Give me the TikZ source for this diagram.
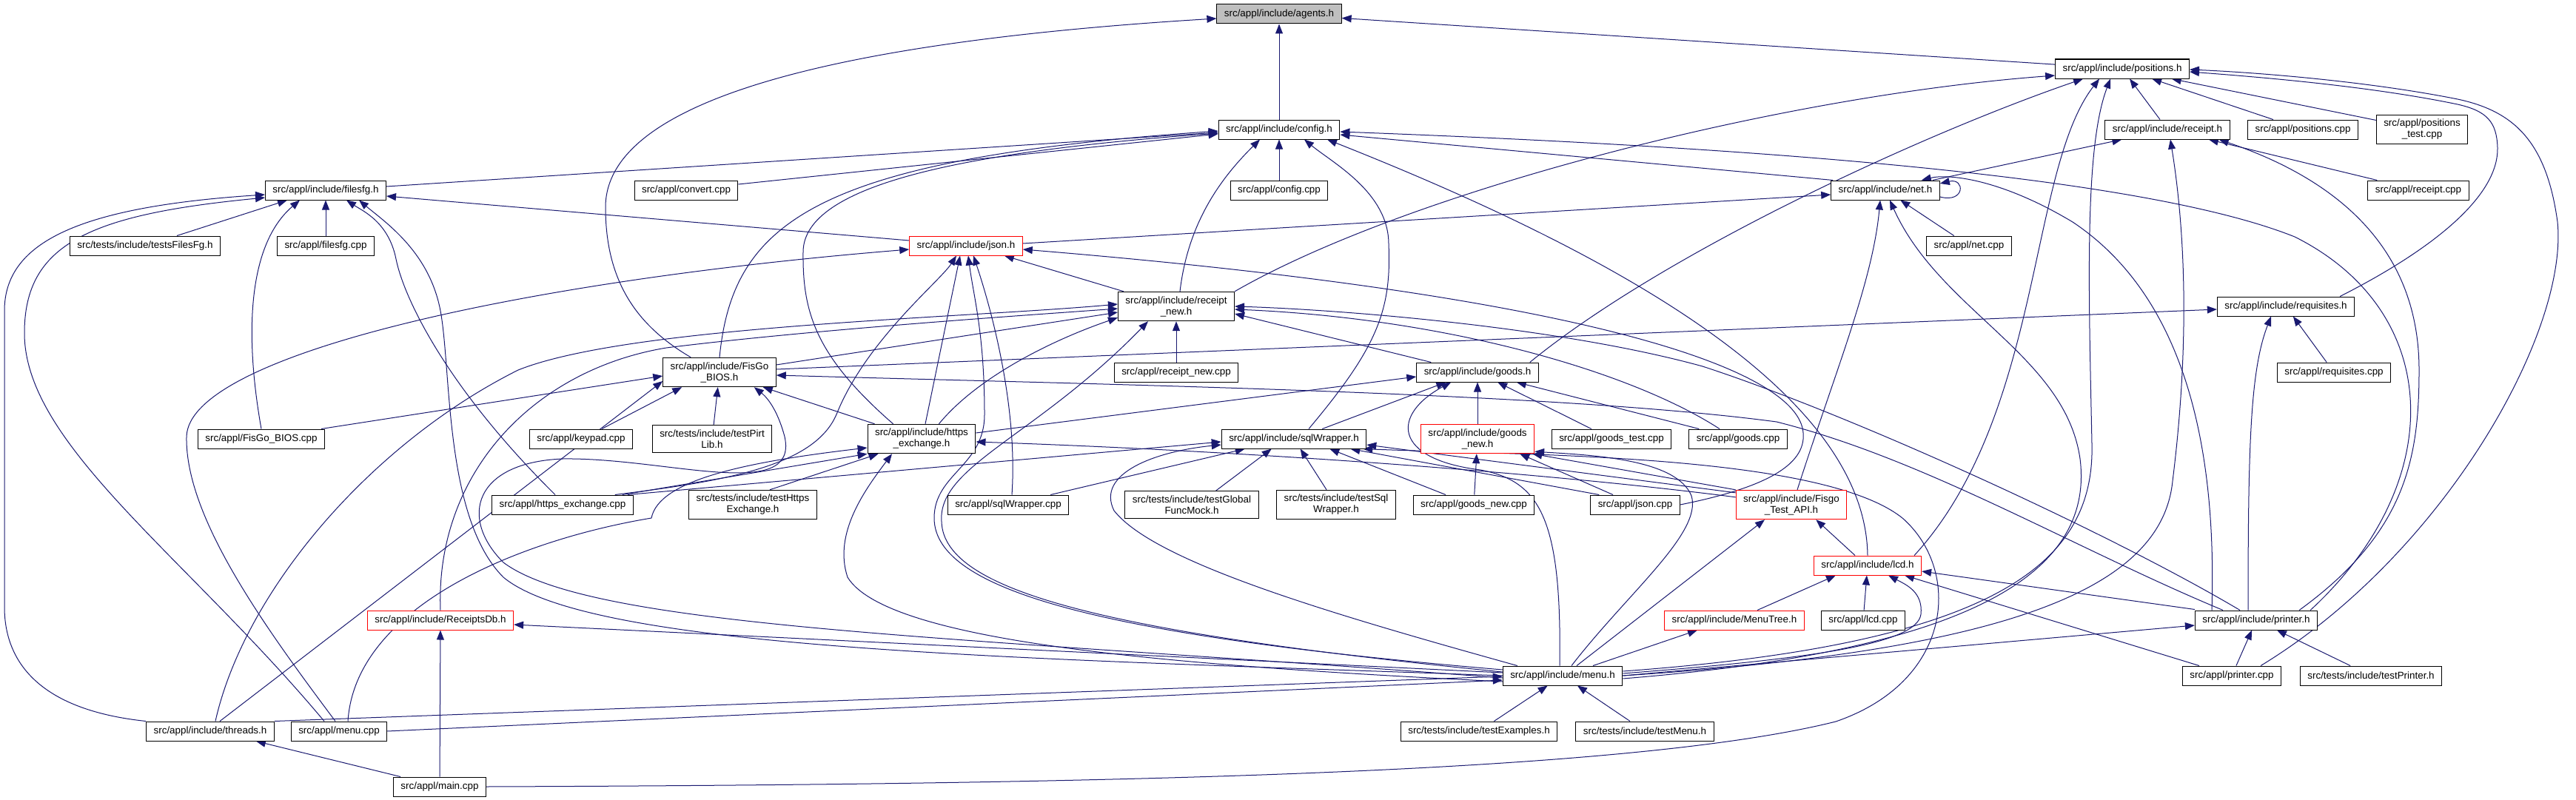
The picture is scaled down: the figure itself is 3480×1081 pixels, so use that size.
\documentclass[tikz,border=0pt]{standalone}
\usepackage{fontspec}
\setmainfont{Liberation Sans}
\usepackage{xcolor}
\usepackage{tikz}
\usetikzlibrary{arrows.meta,backgrounds}
\definecolor{inclblue}{RGB}{25,25,112}
\definecolor{rootgrey}{RGB}{191,191,191}
\tikzset{
  file/.style={
    draw=black,
    line width=1pt,
    fill=white,
    align=center,
    inner xsep=10pt,
    inner ysep=6pt,
    minimum height=26pt,
    font=\fontsize{13.4}{15}\selectfont
  },
  cutfile/.style={
    file,
    draw=red
  },
  rootfile/.style={
    file,
    fill=rootgrey
  },
  incl/.style={
    draw=inclblue,
    line width=1pt,
    -{Triangle[length=13pt,width=10pt]}
  }
}

\begin{document}
\begin{tikzpicture}[x=1pt,y=-1pt]
  \useasboundingbox (0,0) rectangle (3480,1081);
  \node[rootfile] (agents) at (1728,19) {src/appl/include/agents.h};
  \node[file] (positionsh) at (2867,93) {src/appl/include/positions.h};
  \node[file] (configh) at (1728,175) {src/appl/include/config.h};
  \node[file] (receipth) at (2928,175) {src/appl/include/receipt.h};
  \node[file] (positionscpp) at (3111,175) {src/appl/positions.cpp};
  \node[file] (positionstest) at (3272,175) {src/appl/positions\\\_test.cpp};
  \node[file] (filesfgh) at (440,257) {src/appl/include/filesfg.h};
  \node[file] (convertcpp) at (927,257) {src/appl/convert.cpp};
  \node[file] (configcpp) at (1728,257) {src/appl/config.cpp};
  \node[file] (neth) at (2547,257) {src/appl/include/net.h};
  \node[file] (receiptcpp) at (3267,257) {src/appl/receipt.cpp};
  \node[file] (testsfilesfg) at (196,332) {src/tests/include/testsFilesFg.h};
  \node[file] (filesfgcpp) at (440,332) {src/appl/filesfg.cpp};
  \node[cutfile] (jsonh) at (1305,332) {src/appl/include/json.h};
  \node[file] (netcpp) at (2660,332) {src/appl/net.cpp};
  \node[file] (receiptnewh) at (1589,414) {src/appl/include/receipt\\\_new.h};
  \node[file] (requisitesh) at (3088,414) {src/appl/include/requisites.h};
  \node[file] (fisgobiosh) at (972,503) {src/appl/include/FisGo\\\_BIOS.h};
  \node[file] (receiptnewcpp) at (1589,503) {src/appl/receipt\_new.cpp};
  \node[file] (goodsh) at (1996,503) {src/appl/include/goods.h};
  \node[file] (requisitescpp) at (3153,503) {src/appl/requisites.cpp};
  \node[file] (fisgobioscpp) at (353,593) {src/appl/FisGo\_BIOS.cpp};
  \node[file] (keypadcpp) at (785,593) {src/appl/keypad.cpp};
  \node[file] (testpirtlib) at (962,593) {src/tests/include/testPirt\\Lib.h};
  \node[file] (httpsh) at (1245,593) {src/appl/include/https\\\_exchange.h};
  \node[file] (sqlwrapperh) at (1748,593) {src/appl/include/sqlWrapper.h};
  \node[cutfile] (goodsnewh) at (1996,593) {src/appl/include/goods\\\_new.h};
  \node[file] (goodstestcpp) at (2177,593) {src/appl/goods\_test.cpp};
  \node[file] (goodscpp) at (2348,593) {src/appl/goods.cpp};
  \node[file] (httpscpp) at (760,682) {src/appl/https\_exchange.cpp};
  \node[file] (testhttps) at (1017,682) {src/tests/include/testHttps\\Exchange.h};
  \node[file] (sqlwrappercpp) at (1362,682) {src/appl/sqlWrapper.cpp};
  \node[file] (testglobal) at (1610,682) {src/tests/include/testGlobal\\FuncMock.h};
  \node[file] (testsql) at (1805,682) {src/tests/include/testSql\\Wrapper.h};
  \node[file] (goodsnewcpp) at (1991,682) {src/appl/goods\_new.cpp};
  \node[file] (jsoncpp) at (2209,682) {src/appl/json.cpp};
  \node[cutfile] (fisgotesth) at (2420,682) {src/appl/include/Fisgo\\\_Test\_API.h};
  \node[cutfile] (lcdh) at (2523,764) {src/appl/include/lcd.h};
  \node[cutfile] (receiptsdbh) at (595,838) {src/appl/include/ReceiptsDb.h};
  \node[cutfile] (menutreeh) at (2343,838) {src/appl/include/MenuTree.h};
  \node[file] (lcdcpp) at (2517,838) {src/appl/lcd.cpp};
  \node[file] (printerh) at (3048,838) {src/appl/include/printer.h};
  \node[file] (menuh) at (2111,913) {src/appl/include/menu.h};
  \node[file] (printercpp) at (3015,913) {src/appl/printer.cpp};
  \node[file] (testprinter) at (3203,913) {src/tests/include/testPrinter.h};
  \node[file] (threadsh) at (284,988) {src/appl/include/threads.h};
  \node[file] (menucpp) at (458,988) {src/appl/menu.cpp};
  \node[file] (testexamples) at (1998,988) {src/tests/include/testExamples.h};
  \node[file] (testmenu) at (2222,988) {src/tests/include/testMenu.h};
  \node[file] (maincpp) at (594,1063) {src/appl/main.cpp};

  \begin{scope}[on background layer]
    \fill[white] (0,0) rectangle (3480,1081);
    % agents.h
    \draw[incl] (configh) -- (agents);
    \draw[incl] (positionsh) -- (agents);
    \draw[incl] ([xshift=38pt]fisgobiosh.north west) .. controls (860,440) and (818,380) .. (818,280) .. controls (818,130) and (1150,55) .. ([yshift=-6pt]agents.west);
    % positions.h
    \draw[incl] (receiptnewh.north east) .. controls (1900,260) and (2400,130) .. ([yshift=-9pt]positionsh.west);
    \draw[incl] ([xshift=-12pt]goodsh.north east) .. controls (2250,340) and (2600,180) .. ([xshift=38pt]positionsh.south west);
    \draw[incl] ([xshift=-10pt]lcdh.north east) .. controls (2760,560) and (2740,230) .. ([xshift=60pt]positionsh.south west);
    \draw[incl] ([yshift=6pt]menuh.east) .. controls (2700,870) and (2830,760) .. (2826,600) .. controls (2822,400) and (2815,200) .. ([xshift=75pt]positionsh.south west);
    \draw[incl] (receipth) -- (positionsh);
    \draw[incl] (positionscpp) -- (positionsh);
    \draw[incl] (positionstest) -- (positionsh);
    \draw[incl] ([xshift=-20pt]requisitesh.north east) .. controls (3300,330) and (3375,260) .. (3374,200) .. controls (3373,165) and (3360,150) .. (3320,141) .. controls (3200,116) and (3050,104) .. ([yshift=-4pt]positionsh.east);
    \draw[incl] ([xshift=-28pt]printercpp.north east) .. controls (3300,750) and (3470,450) .. (3455,300) .. controls (3440,190) and (3395,150) .. (3320,134) .. controls (3200,110) and (3050,98) .. ([yshift=-1pt]positionsh.east);
    % config.h
    \draw[incl] ([yshift=5pt]filesfgh.east) -- ([yshift=-4pt]configh.west);
    \draw[incl] ([yshift=8pt]convertcpp.east) -- ([yshift=-6pt]configh.west);
    \draw[incl] (fisgobiosh.north) .. controls (990,300) and (1100,215) .. ([yshift=-2pt]configh.west);
    \draw[incl] ([xshift=35pt]httpsh.north west) .. controls (1100,480) and (1084,420) .. (1085,340) .. controls (1086,250) and (1300,205) .. ([yshift=-5pt]configh.west);
    \draw[incl] ([xshift=5pt]receiptnewh.north) .. controls (1605,300) and (1650,240) .. ([xshift=-26pt]configh.south);
    \draw[incl] (configcpp) -- (configh);
    \draw[incl] ([xshift=20pt]sqlwrapperh.north) .. controls (1860,470) and (1880,420) .. (1876,330) .. controls (1876,260) and (1800,220) .. ([xshift=34pt]configh.south);
    \draw[incl] (lcdh.north) .. controls (2520,520) and (2150,330) .. ([xshift=65pt]configh.south);
    \draw[incl] ([xshift=3pt]neth.north west) -- ([yshift=-7pt]configh.east);
    \draw[incl] ([xshift=-10pt]printerh.north east) .. controls (3310,650) and (3300,420) .. (3100,320) .. controls (2900,240) and (2400,200) .. ([yshift=-3pt]configh.east);
    % net.h
    \draw[incl] ([xshift=-60pt]printerh.north) .. controls (2995,600) and (2950,400) .. (2800,300) .. controls (2700,240) and (2630,235) .. ([xshift=-25pt]neth.north east);
    \draw[incl] ([yshift=-9pt]neth.east) .. controls (2655,275) and (2655,240) .. ([yshift=9pt]neth.east);
    \draw[incl] ([yshift=3pt]jsonh.east) -- ([yshift=-6pt]neth.west);
    \draw[incl] ([xshift=8pt]fisgotesth.north) .. controls (2480,500) and (2530,380) .. ([xshift=-7pt]neth.south);
    \draw[incl] ([yshift=-4pt]menuh.east) .. controls (2650,880) and (2830,780) .. (2810,620) .. controls (2790,480) and (2620,420) .. ([xshift=6pt]neth.south);
    \draw[incl] (netcpp) -- (neth);
    % receipt.h
    \draw[incl] ([xshift=-10pt]neth.north east) -- ([xshift=23pt]receipth.south west);
    \draw[incl] (menuh.east) .. controls (2700,880) and (2920,800) .. (2935,650) .. controls (2960,450) and (2950,300) .. ([xshift=4pt]receipth.south);
    \draw[incl] (receiptcpp) -- (receipth);
    \draw[incl] ([xshift=-25pt]printerh.north east) .. controls (3250,720) and (3268,620) .. (3268,500) .. controls (3268,330) and (3150,240) .. ([xshift=-15pt]receipth.south east);
    % filesfg.h
    \draw[incl] (threadsh.north west) .. controls (60,960) and (6,900) .. (6,820) -- (6,420) .. controls (6,330) and (100,280) .. ([yshift=-6pt]filesfgh.west);
    \draw[incl] ([xshift=-20pt]menucpp.north) .. controls (250,750) and (33,600) .. (33,450) .. controls (33,330) and (120,290) .. ([yshift=-10pt]filesfgh.west);
    \draw[incl] ([xshift=43pt]testsfilesfg.north) -- ([xshift=30pt]filesfgh.south west);
    \draw[incl] (fisgobioscpp.north) .. controls (330,450) and (335,330) .. ([xshift=-35pt]filesfgh.south);
    \draw[incl] (filesfgcpp) -- (filesfgh);
    \draw[incl] ([xshift=-10pt]httpscpp.north) .. controls (600,520) and (545,400) .. (535,350) .. controls (525,300) and (490,285) .. ([xshift=28pt]filesfgh.south);
    \draw[incl] (menuh.west) .. controls (1400,890) and (800,880) .. (680,780) .. controls (600,700) and (610,500) .. (595,420) .. controls (580,340) and (520,300) .. ([xshift=45pt]filesfgh.south);
    \draw[incl] ([yshift=7pt]jsonh.west) -- ([yshift=-8pt]filesfgh.east);
    % json.h
    \draw[incl] ([xshift=-25pt]httpscpp.north east) .. controls (980,650) and (1100,630) .. (1130,560) .. controls (1170,460) and (1270,380) .. ([xshift=-13pt]jsonh.south);
    \draw[incl] ([xshift=5pt]httpsh.north) -- ([xshift=-8pt]jsonh.south);
    \draw[incl] ([yshift=8pt]menuh.west) .. controls (1500,860) and (1262,800) .. (1262,700) .. controls (1262,640) and (1330,630) .. (1330,560) .. controls (1330,450) and (1315,400) .. ([xshift=3pt]jsonh.south);
    \draw[incl] ([xshift=5pt]sqlwrappercpp.north) .. controls (1375,550) and (1340,420) .. ([xshift=10pt]jsonh.south);
    \draw[incl] ([xshift=8pt]receiptnewh.north west) -- ([xshift=-25pt]jsonh.south east);
    \draw[incl] (jsoncpp.east) .. controls (2380,660) and (2440,630) .. (2436,585) .. controls (2430,500) and (2150,400) .. ([yshift=-5pt]jsonh.east);
    \draw[incl] ([xshift=-5pt]menucpp.north) .. controls (360,850) and (250,700) .. (252,590) .. controls (255,480) and (700,380) .. ([yshift=-5pt]jsonh.west);
    % receipt_new.h
    \draw[incl] ([xshift=7pt]threadsh.north) .. controls (330,800) and (500,600) .. (700,500) .. controls (850,440) and (1300,430) .. ([yshift=3pt]receiptnewh.west);
    \draw[incl] (receiptsdbh.north) .. controls (588,640) and (720,500) .. (900,470) .. controls (1100,445) and (1400,425) .. ([yshift=-3pt]receiptnewh.west);
    \draw[incl] ([yshift=10pt]fisgobiosh.east) -- ([yshift=-8pt]receiptnewh.west);
    \draw[incl] ([xshift=-50pt]httpsh.north east) .. controls (1320,510) and (1420,460) .. ([yshift=5pt]receiptnewh.south west);
    \draw[incl] ([yshift=5pt]menuh.west) .. controls (1500,855) and (1275,800) .. (1272,705) .. controls (1266,630) and (1400,590) .. ([xshift=-38pt]receiptnewh.south);
    \draw[incl] (receiptnewcpp) -- (receiptnewh);
    \draw[incl] ([xshift=20pt]goodsh.north west) -- ([yshift=-10pt]receiptnewh.east);
    \draw[incl] ([xshift=-25pt]goodscpp.north) .. controls (2200,500) and (1950,430) .. ([yshift=-4pt]receiptnewh.east);
    \draw[incl] ([xshift=-22pt]printerh.north) .. controls (2850,720) and (2500,560) .. (2300,495) .. controls (2100,440) and (1800,418) .. (receiptnewh.east);
    % FisGo_BIOS.h
    \draw[incl] ([xshift=-5pt]fisgobioscpp.north east) -- ([yshift=-5pt]fisgobiosh.west);
    \draw[incl] ([xshift=13pt]threadsh.north) -- ([yshift=-12pt]fisgobiosh.west);
    \draw[incl] ([xshift=28pt]keypadcpp.north) -- ([xshift=26pt]fisgobiosh.south west);
    \draw[incl] (testpirtlib) -- (fisgobiosh);
    \draw[incl] ([yshift=-3pt]menuh.west) .. controls (1300,860) and (800,850) .. (680,760) .. controls (620,700) and (640,625) .. (760,620) .. controls (900,618) and (1080,680) .. (1060,590) .. controls (1052,560) and (1040,540) .. ([xshift=-30pt]fisgobiosh.south east);
    \draw[incl] ([xshift=10pt]httpsh.north west) -- ([xshift=-18pt]fisgobiosh.south east);
    \draw[incl] ([xshift=-45pt]printerh.north) .. controls (2800,740) and (2600,620) .. (2400,570) .. controls (2100,530) and (1500,520) .. ([yshift=-4pt]fisgobiosh.east);
    \draw[incl] ([yshift=4pt]fisgobiosh.east) -- ([yshift=-4pt]requisitesh.west);
    % requisites.h
    \draw[incl] (requisitescpp) -- (requisitesh);
    \draw[incl] ([xshift=-11pt]printerh.north) .. controls (3037,600) and (3040,500) .. ([xshift=-20pt]requisitesh.south);
    % goods.h, goods_new.h
    \draw[incl] ([yshift=8pt]httpsh.east) -- ([yshift=-6pt]goodsh.west);
    \draw[incl] ([xshift=-60pt]sqlwrapperh.north east) -- ([xshift=40pt]goodsh.south west);
    \draw[incl] ([xshift=-4pt]menuh.north) .. controls (2110,700) and (2080,650) .. (2000,635) .. controls (1880,620) and (1880,560) .. ([xshift=47pt]goodsh.south west);
    \draw[incl] (goodsnewh) -- (goodsh);
    \draw[incl] (goodstestcpp) -- (goodsh);
    \draw[incl] (goodscpp) -- (goodsh);
    \draw[incl] (goodsnewcpp) -- (goodsnewh);
    \draw[incl] ([xshift=-30pt]jsoncpp.north) -- ([xshift=-20pt]goodsnewh.south east);
    \draw[incl] (fisgotesth.north west) -- ([xshift=-3pt]goodsnewh.south east);
    \draw[incl] ([xshift=12pt]menuh.north) .. controls (2200,800) and (2300,720) .. (2285,670) .. controls (2265,620) and (2150,615) .. ([yshift=3pt]goodsnewh.south east);
    % sqlWrapper.h
    \draw[incl] ([xshift=-25pt]sqlwrappercpp.north east) -- ([xshift=32pt]sqlwrapperh.south west);
    \draw[incl] ([xshift=-58pt]testglobal.north east) -- ([xshift=68pt]sqlwrapperh.south west);
    \draw[incl] (testsql) -- (sqlwrapperh);
    \draw[incl] ([xshift=-38pt]goodsnewcpp.north) -- ([xshift=-50pt]sqlwrapperh.south east);
    \draw[incl] ([xshift=12pt]jsoncpp.north west) -- ([xshift=-22pt]sqlwrapperh.south east);
    \draw[incl] ([yshift=-4pt]fisgotesth.north west) -- ([yshift=-8pt]sqlwrapperh.east);
    \draw[incl] ([yshift=-10pt]fisgotesth.north west) .. controls (2100,640) and (1700,610) .. ([yshift=-4pt]httpsh.east);
    \draw[incl] ([xshift=20pt]menuh.north west) .. controls (1800,830) and (1560,760) .. (1505,690) .. controls (1480,640) and (1560,610) .. ([yshift=-8pt]sqlwrapperh.west);
    \draw[incl] ([xshift=-8pt]httpscpp.north east) -- ([yshift=-4pt]sqlwrapperh.west);
    \draw[incl] (maincpp.east) .. controls (1500,1060) and (2200,1045) .. (2480,975) .. controls (2640,920) and (2650,770) .. (2570,700) .. controls (2460,612) and (2050,615) .. ([xshift=-5pt]sqlwrapperh.south east);
    % https_exchange.h
    \draw[incl] ([xshift=-15pt]httpscpp.north east) -- (httpsh.south west);
    \draw[incl] ([xshift=23pt]testhttps.north) -- ([xshift=15pt]httpsh.south west);
    \draw[incl] ([yshift=-8pt]menuh.west) .. controls (1600,900) and (1200,870) .. (1145,780) .. controls (1125,720) and (1170,660) .. ([xshift=-40pt]httpsh.south);
    \draw[incl] ([xshift=12pt]menucpp.north) .. controls (480,820) and (700,730) .. (880,700) .. controls (890,650) and (1000,625) .. ([yshift=-12pt]httpsh.west);
    % menu.h
    \draw[incl] (threadsh.north east) -- ([yshift=-1pt]menuh.west);
    \draw[incl] (menucpp.east) -- ([yshift=-6pt]menuh.west);
    \draw[incl] (testexamples) -- (menuh);
    \draw[incl] (testmenu) -- (menuh);
    \draw[incl] (menuh.east) -- ([yshift=-7pt]printerh.west);
    \draw[incl] ([yshift=3pt]menuh.east) .. controls (2450,890) and (2590,870) .. (2595,830) .. controls (2598,800) and (2575,790) .. ([xshift=28pt]lcdh.south);
    \draw[incl] ([xshift=41pt]menuh.north) -- ([xshift=-50pt]menutreeh.south);
    \draw[incl] ([xshift=19pt]menuh.north) -- ([xshift=-36pt]fisgotesth.south);
    \draw[incl] ([yshift=4pt]menuh.west) -- ([yshift=-6pt]receiptsdbh.east);
    % lcd.h
    \draw[incl] ([xshift=31pt]menutreeh.north) -- ([xshift=30pt]lcdh.south west);
    \draw[incl] (lcdcpp) -- (lcdh);
    \draw[incl] ([yshift=1pt]printerh.north west) -- ([yshift=-8pt]lcdh.east);
    \draw[incl] ([xshift=23pt]printercpp.north west) -- ([xshift=-23pt]lcdh.south east);
    \draw[incl] ([xshift=-17pt]lcdh.north) -- ([xshift=-42pt]fisgotesth.south east);
    % printer.h
    \draw[incl] (printercpp) -- (printerh);
    \draw[incl] (testprinter) -- (printerh);
    % main.cpp
    \draw[incl] ([xshift=-53pt]maincpp.north) -- ([xshift=-25pt]threadsh.south east);
    \draw[incl] (maincpp) -- (receiptsdbh);
  \end{scope}
\end{tikzpicture}
\end{document}
